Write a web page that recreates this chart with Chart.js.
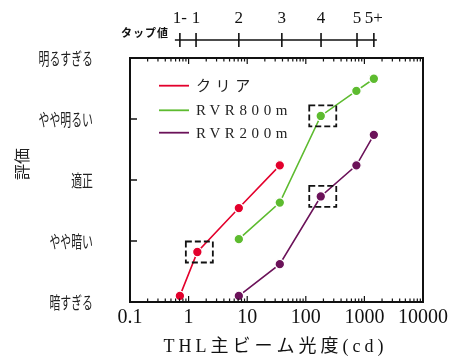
<!DOCTYPE html>
<html><head><meta charset="utf-8">
<script src="https://cdn.jsdelivr.net/npm/chart.js@4/dist/chart.umd.min.js"></script>
<style>html,body{margin:0;padding:0;background:#fff;}canvas{display:block;}</style>
</head><body>
<canvas id="c" width="467" height="356"></canvas>
<script>
// ---- data ----
const xTickValues = [0.1, 1, 10, 100, 1000, 10000];
const xTickLabels = ['0.1', '1', '10', '100', '1000', '10000'];
const yTickLabels = ['暗すぎる', 'やや暗い', '適正', 'やや明るい', '明るすぎる'];
const tapLabels = ['1-', '1', '2', '3', '4', '5', '5+'];
const tapValues = [0.71, 1.34, 7.2, 39, 182, 748, 1450];
const tapTitle = 'タップ値';
const xTitle = 'THL主ビーム光度(cd)';
const yTitle = '評価';
const seriesNames = ['クリア', 'RVR800m', 'RVR200m'];
const clearX = [0.71, 1.41, 7.2, 36];
const clearY = [1.10, 1.82, 2.54, 3.24];
const rvr800X = [7.2, 36, 180, 730, 1450];
const rvr800Y = [2.03, 2.63, 4.05, 4.46, 4.66];
const rvr200X = [7.2, 36, 180, 730, 1450];
const rvr200Y = [1.10, 1.62, 2.73, 3.24, 3.74];
const boxedIndex = [1, 2, 2];
const colors = ['#e3002c', '#5dbb2f', '#6b1259'];

const toPts = (xs, ys) => xs.map((x, i) => ({x: x, y: ys[i]}));
const seriesX = [clearX, rvr800X, rvr200X];
const seriesY = [clearY, rvr800Y, rvr200Y];

const datasets = seriesNames.map((name, i) => ({
  label: name,
  data: toPts(seriesX[i], seriesY[i]),
  borderColor: colors[i],
  backgroundColor: colors[i],
  pointBackgroundColor: colors[i],
  pointBorderColor: '#ffffff',
  pointBorderWidth: 1.3,
  pointRadius: 4.8,
  borderWidth: 1.6,
  tension: 0,
  clip: false
}));

const deco = {
  id: 'deco',
  afterDraw(chart) {
    const ctx = chart.ctx;
    const a = chart.chartArea;
    const xs = chart.scales.x, ys = chart.scales.y;
    ctx.save();
    ctx.strokeStyle = '#111';
    ctx.fillStyle = '#111';
    // frame
    ctx.lineWidth = 2;
    ctx.strokeRect(a.left, a.top, a.right - a.left, a.bottom - a.top);
    // log ticks on bottom & top
    ctx.lineWidth = 1.2;
    for (let e = -1; e <= 4; e++) {
      for (let s = 1; s <= 9; s++) {
        const v = s * Math.pow(10, e);
        if (v < 0.1 - 1e-9 || v > 10000 + 1e-6) continue;
        const px = xs.getPixelForValue(v);
        const len = s === 1 ? 6 : 3.5;
        ctx.beginPath();
        ctx.moveTo(px, a.bottom); ctx.lineTo(px, a.bottom - len);
        ctx.moveTo(px, a.top); ctx.lineTo(px, a.top + len);
        ctx.stroke();
      }
    }
    // y ticks and condensed y tick labels
    ctx.lineWidth = 1.5;
    for (let v = 2; v <= 4; v++) {
      const py = ys.getPixelForValue(v);
      ctx.beginPath(); ctx.moveTo(a.left, py); ctx.lineTo(a.left + 7, py); ctx.stroke();
    }
    ctx.font = '17px "Noto Sans CJK JP"';
    ctx.fillStyle = '#222';
    ctx.textAlign = 'right'; ctx.textBaseline = 'middle';
    yTickLabels.forEach((lab, i) => {
      const py = ys.getPixelForValue(i + 1);
      ctx.save();
      ctx.translate(a.left - 37, py + 1);
      ctx.scale(0.64, 1);
      ctx.fillText(lab, 0, 0);
      ctx.restore();
    });
    // top tap axis
    ctx.fillStyle = '#111';
    const ty = a.top - 18;
    const p0 = xs.getPixelForValue(tapValues[0]);
    const p1 = xs.getPixelForValue(tapValues[tapValues.length - 1]);
    ctx.lineWidth = 1.6;
    ctx.beginPath(); ctx.moveTo(p0 - 5, ty); ctx.lineTo(p1 + 3, ty); ctx.stroke();
    ctx.font = '17px "Liberation Serif"';
    ctx.textAlign = 'center'; ctx.textBaseline = 'middle';
    tapValues.forEach((v, i) => {
      const px = xs.getPixelForValue(v);
      ctx.beginPath(); ctx.moveTo(px, ty - 7); ctx.lineTo(px, ty + 7); ctx.stroke();
      ctx.fillText(tapLabels[i], px, ty - 21);
    });
    ctx.font = 'bold 11px "Noto Sans CJK JP"';
    ctx.textAlign = 'right';
    ctx.letterSpacing = '1px';
    ctx.fillText(tapTitle, p0 - 11, ty - 7);
    // legend
    const rows = [27.7, 52.3, 74.7];
    ctx.font = '15px "Liberation Serif", "Noto Sans CJK JP"';
    ctx.textAlign = 'left';
    ctx.letterSpacing = '4.6px';
    seriesNames.forEach((n, i) => {
      const y = a.top + rows[i];
      ctx.strokeStyle = colors[i]; ctx.lineWidth = 1.8;
      ctx.beginPath(); ctx.moveTo(a.left + 29, y); ctx.lineTo(a.left + 59, y); ctx.stroke();
      ctx.fillStyle = '#222';
      ctx.fillText(n, a.left + 66, y + 1);
    });
    // x title
    ctx.font = '18px "Liberation Serif", "Noto Sans CJK JP"';
    ctx.textAlign = 'center';
    ctx.letterSpacing = '4px';
    ctx.fillStyle = '#111';
    ctx.fillText(xTitle, (a.left + a.right) / 2 - 1, 347);
    ctx.letterSpacing = '0px';
    // dashed boxes
    ctx.strokeStyle = '#111';
    ctx.lineWidth = 1.8;
    ctx.setLineDash([6, 3]);
    boxedIndex.forEach((idx, i) => {
      const px = xs.getPixelForValue(seriesX[i][idx]);
      const py = ys.getPixelForValue(seriesY[i][idx]);
      ctx.strokeRect(px - 11.5, py - 10.5, 27, 21);
    });
    ctx.restore();
  }
};

new Chart(document.getElementById('c'), {
  type: 'line',
  data: { datasets: datasets },
  options: {
    responsive: false,
    animation: false,
    devicePixelRatio: 1,
    layout: { padding: { top: 58, right: 44, left: 0, bottom: 0 } },
    plugins: { legend: { display: false }, tooltip: { enabled: false } },
    scales: {
      x: {
        type: 'logarithmic',
        position: 'bottom',
        min: 0.1, max: 10000,
        grid: { display: false, drawTicks: false },
        border: { display: false },
        ticks: {
          autoSkip: false, maxRotation: 0, minRotation: 0,
          padding: 4,
          color: '#111',
          font: { family: '"Liberation Serif"', size: 20 },
          callback: function (v) {
            const i = xTickValues.findIndex(t => Math.abs(Math.log10(v) - Math.log10(t)) < 1e-6);
            return i >= 0 ? xTickLabels[i] : '';
          }
        },
        afterFit: s => { s.height = 54; }
      },
      y: {
        min: 1, max: 5,
        grid: { display: false, drawTicks: false },
        border: { display: false },
        ticks: {
          display: false,
          stepSize: 1,
          callback: v => yTickLabels[Math.round(v) - 1] || ''
        },
        title: {
          display: true,
          text: '\u3000\u3000' + yTitle,
          color: '#222',
          font: { family: '"Noto Sans CJK JP"', size: 16 },
          padding: { top: 12, bottom: 0 }
        },
        afterFit: s => { s.width = 130; }
      }
    }
  },
  plugins: [deco]
});
</script>
</body></html>
